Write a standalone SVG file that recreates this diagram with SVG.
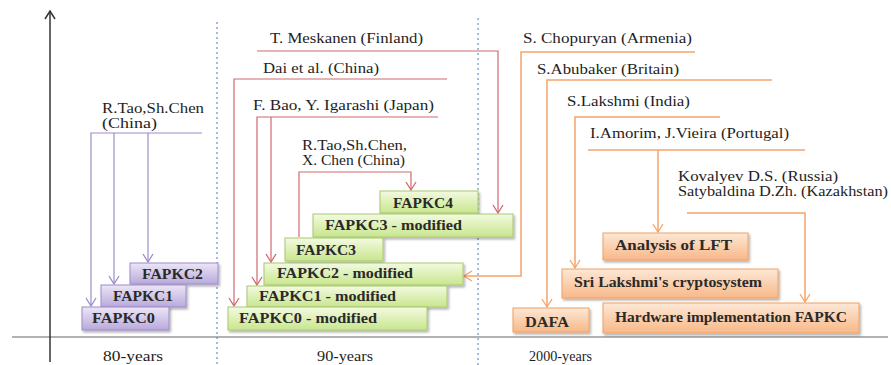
<svg xmlns="http://www.w3.org/2000/svg" width="891" height="365" viewBox="0 0 891 365">
<defs>
<linearGradient id="gp" x1="0" y1="0" x2="0" y2="1"><stop offset="0" stop-color="#ece6f6"/><stop offset="1" stop-color="#b9a9dc"/></linearGradient>
<linearGradient id="gg" x1="0" y1="0" x2="0" y2="1"><stop offset="0" stop-color="#f3fae0"/><stop offset="1" stop-color="#c8e68e"/></linearGradient>
<linearGradient id="go" x1="0" y1="0" x2="0" y2="1"><stop offset="0" stop-color="#fde8d6"/><stop offset="1" stop-color="#f8b888"/></linearGradient>
<filter id="sh" x="-10%" y="-20%" width="130%" height="160%"><feDropShadow dx="1.5" dy="2" stdDeviation="1.2" flood-color="#000" flood-opacity="0.3"/></filter>
<marker id="ap" markerWidth="10" markerHeight="12" refX="9" refY="6" orient="auto" markerUnits="userSpaceOnUse" viewBox="0 0 10 12"><polyline points="1,1 9,6 1,11" fill="none" stroke="#9d8ccb" stroke-width="1.3"/></marker>
<marker id="ar" markerWidth="10" markerHeight="12" refX="9" refY="6" orient="auto" markerUnits="userSpaceOnUse" viewBox="0 0 10 12"><polyline points="1,1 9,6 1,11" fill="none" stroke="#d06a6e" stroke-width="1.3"/></marker>
<marker id="ao" markerWidth="10" markerHeight="12" refX="9" refY="6" orient="auto" markerUnits="userSpaceOnUse" viewBox="0 0 10 12"><polyline points="1,1 9,6 1,11" fill="none" stroke="#f5a46a" stroke-width="1.3"/></marker>
<marker id="ak" markerWidth="10" markerHeight="12" refX="9" refY="6" orient="auto" markerUnits="userSpaceOnUse" viewBox="0 0 10 12"><polyline points="1,1 9,6 1,11" fill="none" stroke="#333" stroke-width="1.5"/></marker>
</defs>
<style>
.lbl{font-family:"Liberation Serif","Times New Roman",serif;font-size:14px;fill:#1e1e1e}
.bx{font-family:"Liberation Serif","Times New Roman",serif;font-size:14px;font-weight:bold;fill:#2a2a2a}
.bp{fill:url(#gp);stroke:#9d8ccb;stroke-width:1}
.bg{fill:url(#gg);stroke:#a8c870;stroke-width:1}
.bo{fill:url(#go);stroke:#f0a060;stroke-width:1}
.lp{fill:none;stroke:#9d8ccb;stroke-width:1.2}
.lr{fill:none;stroke:#d06a6e;stroke-width:1.2}
.lo{fill:none;stroke:#f5a46a;stroke-width:1.5}
.div{stroke:#4a78c0;stroke-width:1;stroke-dasharray:2,3}
</style>
<rect width="891" height="365" fill="#ffffff"/>
<g id="axes">
<line x1="12" y1="337" x2="888" y2="337" stroke="#666" stroke-width="1.2"/>
<line x1="50" y1="362" x2="50" y2="11" stroke="#333" stroke-width="1.5" marker-end="url(#ak)"/>
<line class="div" x1="217" y1="22" x2="217" y2="365"/>
<line class="div" x1="478" y1="18" x2="478" y2="365"/>
<text class="lbl" x="103" y="361" textLength="60" lengthAdjust="spacingAndGlyphs">80-years</text>
<text class="lbl" x="317" y="361" textLength="56" lengthAdjust="spacingAndGlyphs">90-years</text>
<text class="lbl" x="529" y="361" textLength="63" lengthAdjust="spacingAndGlyphs">2000-years</text>
</g>
<g id="connectors">
<path class="lp" d="M202,133 H91 V306" marker-end="url(#ap)"/>
<path class="lp" d="M114,133 V284" marker-end="url(#ap)"/>
<path class="lp" d="M148,133 V262" marker-end="url(#ap)"/>
<path class="lr" d="M257,51 H498 V213" marker-end="url(#ar)"/>
<path class="lr" d="M447,79 H234 V306" marker-end="url(#ar)"/>
<path class="lr" d="M438,117 H257 V285" marker-end="url(#ar)"/>
<path class="lr" d="M271,117 V262" marker-end="url(#ar)"/>
<path class="lr" d="M299,237 V172 H411 V190" marker-end="url(#ar)"/>
<path class="lo" d="M695,52 H521 V276 H464" marker-end="url(#ao)"/>
<path class="lo" d="M772,80 H547 V307" marker-end="url(#ao)"/>
<path class="lo" d="M720,117 H575 V268" marker-end="url(#ao)"/>
<path class="lo" d="M588,150 H805"/>
<path class="lo" d="M658,150 V232" marker-end="url(#ao)"/>
<path class="lo" d="M687,213 H805 V302" marker-end="url(#ao)"/>
</g>
<g id="label-taochen80"><text class="lbl" x="102" y="113" textLength="102" lengthAdjust="spacingAndGlyphs">R.Tao,Sh.Chen</text><text class="lbl" x="102" y="128" textLength="55" lengthAdjust="spacingAndGlyphs">(China)</text></g>
<g id="label-meskanen"><text class="lbl" x="270" y="43" textLength="153" lengthAdjust="spacingAndGlyphs">T. Meskanen (Finland)</text></g>
<g id="label-dai"><text class="lbl" x="263" y="73" textLength="116" lengthAdjust="spacingAndGlyphs">Dai et al. (China)</text></g>
<g id="label-bao"><text class="lbl" x="253" y="110" textLength="181" lengthAdjust="spacingAndGlyphs">F. Bao, Y. Igarashi (Japan)</text></g>
<g id="label-taochen90"><text class="lbl" x="302" y="150" textLength="105" lengthAdjust="spacingAndGlyphs">R.Tao,Sh.Chen,</text><text class="lbl" x="302" y="165" textLength="103" lengthAdjust="spacingAndGlyphs">X. Chen (China)</text></g>
<g id="label-chopuryan"><text class="lbl" x="523" y="43" textLength="169" lengthAdjust="spacingAndGlyphs">S. Chopuryan (Armenia)</text></g>
<g id="label-abubaker"><text class="lbl" x="537" y="74" textLength="142" lengthAdjust="spacingAndGlyphs">S.Abubaker (Britain)</text></g>
<g id="label-lakshmi"><text class="lbl" x="567" y="106" textLength="123" lengthAdjust="spacingAndGlyphs">S.Lakshmi (India)</text></g>
<g id="label-amorim"><text class="lbl" x="590" y="138" textLength="199" lengthAdjust="spacingAndGlyphs">I.Amorim, J.Vieira (Portugal)</text></g>
<g id="label-kovalyev"><text class="lbl" x="678" y="181" textLength="160" lengthAdjust="spacingAndGlyphs">Kovalyev D.S. (Russia)</text><text class="lbl" x="678" y="196" textLength="210" lengthAdjust="spacingAndGlyphs">Satybaldina D.Zh. (Kazakhstan)</text></g>
<g id="n-fapkc2"><rect class="bp" x="130" y="263" width="88" height="21" filter="url(#sh)"/><text class="bx" x="142" y="278.5" textLength="61" lengthAdjust="spacingAndGlyphs">FAPKC2</text></g>
<g id="n-fapkc1"><rect class="bp" x="101" y="285" width="85" height="22" filter="url(#sh)"/><text class="bx" x="113" y="301" textLength="60" lengthAdjust="spacingAndGlyphs">FAPKC1</text></g>
<g id="n-fapkc0"><rect class="bp" x="82" y="307" width="87" height="23" filter="url(#sh)"/><text class="bx" x="92" y="323" textLength="63" lengthAdjust="spacingAndGlyphs">FAPKC0</text></g>
<g id="n-fapkc4"><rect class="bg" x="380" y="191" width="98" height="22" filter="url(#sh)"/><text class="bx" x="393" y="207.5" textLength="60" lengthAdjust="spacingAndGlyphs">FAPKC4</text></g>
<g id="n-fapkc3m"><rect class="bg" x="313" y="214" width="200" height="23" filter="url(#sh)"/><text class="bx" x="325" y="230" textLength="137" lengthAdjust="spacingAndGlyphs">FAPKC3 - modified</text></g>
<g id="n-fapkc3"><rect class="bg" x="285" y="238" width="98" height="23" filter="url(#sh)"/><text class="bx" x="296" y="254.5" textLength="60" lengthAdjust="spacingAndGlyphs">FAPKC3</text></g>
<g id="n-fapkc2m"><rect class="bg" x="264" y="263" width="199" height="22" filter="url(#sh)"/><text class="bx" x="277" y="278" textLength="136" lengthAdjust="spacingAndGlyphs">FAPKC2 - modified</text></g>
<g id="n-fapkc1m"><rect class="bg" x="247" y="286" width="200" height="21" filter="url(#sh)"/><text class="bx" x="259" y="301" textLength="137" lengthAdjust="spacingAndGlyphs">FAPKC1 - modified</text></g>
<g id="n-fapkc0m"><rect class="bg" x="228" y="307" width="199" height="23" filter="url(#sh)"/><text class="bx" x="239" y="322.5" textLength="138" lengthAdjust="spacingAndGlyphs">FAPKC0 - modified</text></g>
<g id="n-lft"><rect class="bo" x="603" y="233" width="145" height="27" filter="url(#sh)"/><text class="bx" x="615" y="249.5" textLength="117" lengthAdjust="spacingAndGlyphs">Analysis of  LFT</text></g>
<g id="n-sri"><rect class="bo" x="562" y="269" width="216" height="29" filter="url(#sh)"/><text class="bx" x="574" y="286.5" textLength="188" lengthAdjust="spacingAndGlyphs">Sri Lakshmi's cryptosystem</text></g>
<g id="n-dafa"><rect class="bo" x="513" y="308" width="76" height="24" filter="url(#sh)"/><text class="bx" x="525" y="326.5" textLength="44" lengthAdjust="spacingAndGlyphs">DAFA</text></g>
<g id="n-hw"><rect class="bo" x="603" y="303" width="256" height="30" filter="url(#sh)"/><text class="bx" x="615" y="321.5" textLength="232" lengthAdjust="spacingAndGlyphs">Hardware implementation FAPKC</text></g>
</svg>
